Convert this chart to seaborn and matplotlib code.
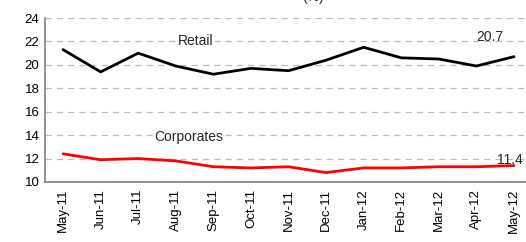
import matplotlib
matplotlib.use("Agg")
import matplotlib.pyplot as plt
import seaborn as sns
import pandas as pd

months = ["May-11", "Jun-11", "Jul-11", "Aug-11", "Sep-11", "Oct-11", "Nov-11",
          "Dec-11", "Jan-12", "Feb-12", "Mar-12", "Apr-12", "May-12"]
retail = [21.3, 19.4, 21.0, 19.9, 19.2, 19.7, 19.5, 20.4, 21.5, 20.6, 20.5, 19.9, 20.7]
corporates = [12.4, 11.9, 12.0, 11.8, 11.3, 11.2, 11.3, 10.8, 11.2, 11.2, 11.3, 11.3, 11.4]
yticks = [10, 12, 14, 16, 18, 20, 22, 24]

sns.set_theme(style="white")
plt.rcParams["font.family"] = ["Liberation Sans", "DejaVu Sans"]

df = pd.DataFrame({"month": months, "idx": range(len(months)),
                   "Retail": retail, "Corporates": corporates})

fig = plt.figure(figsize=(5.26, 2.42), dpi=100)
ax = fig.add_axes([0.0856, 0.248, 0.9144, 0.6776])

for y in yticks[1:]:
    ax.axhline(y, color="#bbbbbb", lw=0.9, ls=(0, (5, 4)), zorder=0)

sns.lineplot(data=df, x="idx", y="Retail", color="black", lw=2.0, ax=ax)
sns.lineplot(data=df, x="idx", y="Corporates", color="#ff0000", lw=2.0, ax=ax)

ax.set_xlim(-0.48, 12.32)
ax.set_ylim(10, 24)
ax.set_yticks(yticks)
ax.set_yticklabels([str(v) for v in yticks], fontsize=9.5)
ax.set_xticks(range(len(months)))
ax.set_xticklabels(months, rotation=90, fontsize=9.5)
ax.set_xlabel("")
ax.set_ylabel("")
ax.tick_params(axis="both", length=0, pad=4, colors="black")
ax.tick_params(axis="x", pad=5)
for s in ["top", "right"]:
    ax.spines[s].set_visible(False)
for s in ["left", "bottom"]:
    ax.spines[s].set_color("#808080")
    ax.spines[s].set_linewidth(1.2)

ax.text(3.54, 22.0, "Retail", ha="center", va="center", fontsize=10,
        bbox=dict(facecolor="white", edgecolor="none", pad=1))
ax.text(3.35, 13.8, "Corporates", ha="center", va="center", fontsize=10,
        bbox=dict(facecolor="white", edgecolor="none", pad=1))
ax.text(11.36, 22.35, "20.7", ha="center", va="center", fontsize=10)
ax.text(11.9, 11.9, "11.4", ha="center", va="center", fontsize=10)

fig.text(0.595, 0.985, "(%)", ha="center", va="bottom", fontsize=10)

fig.savefig("out.png", dpi=100)
